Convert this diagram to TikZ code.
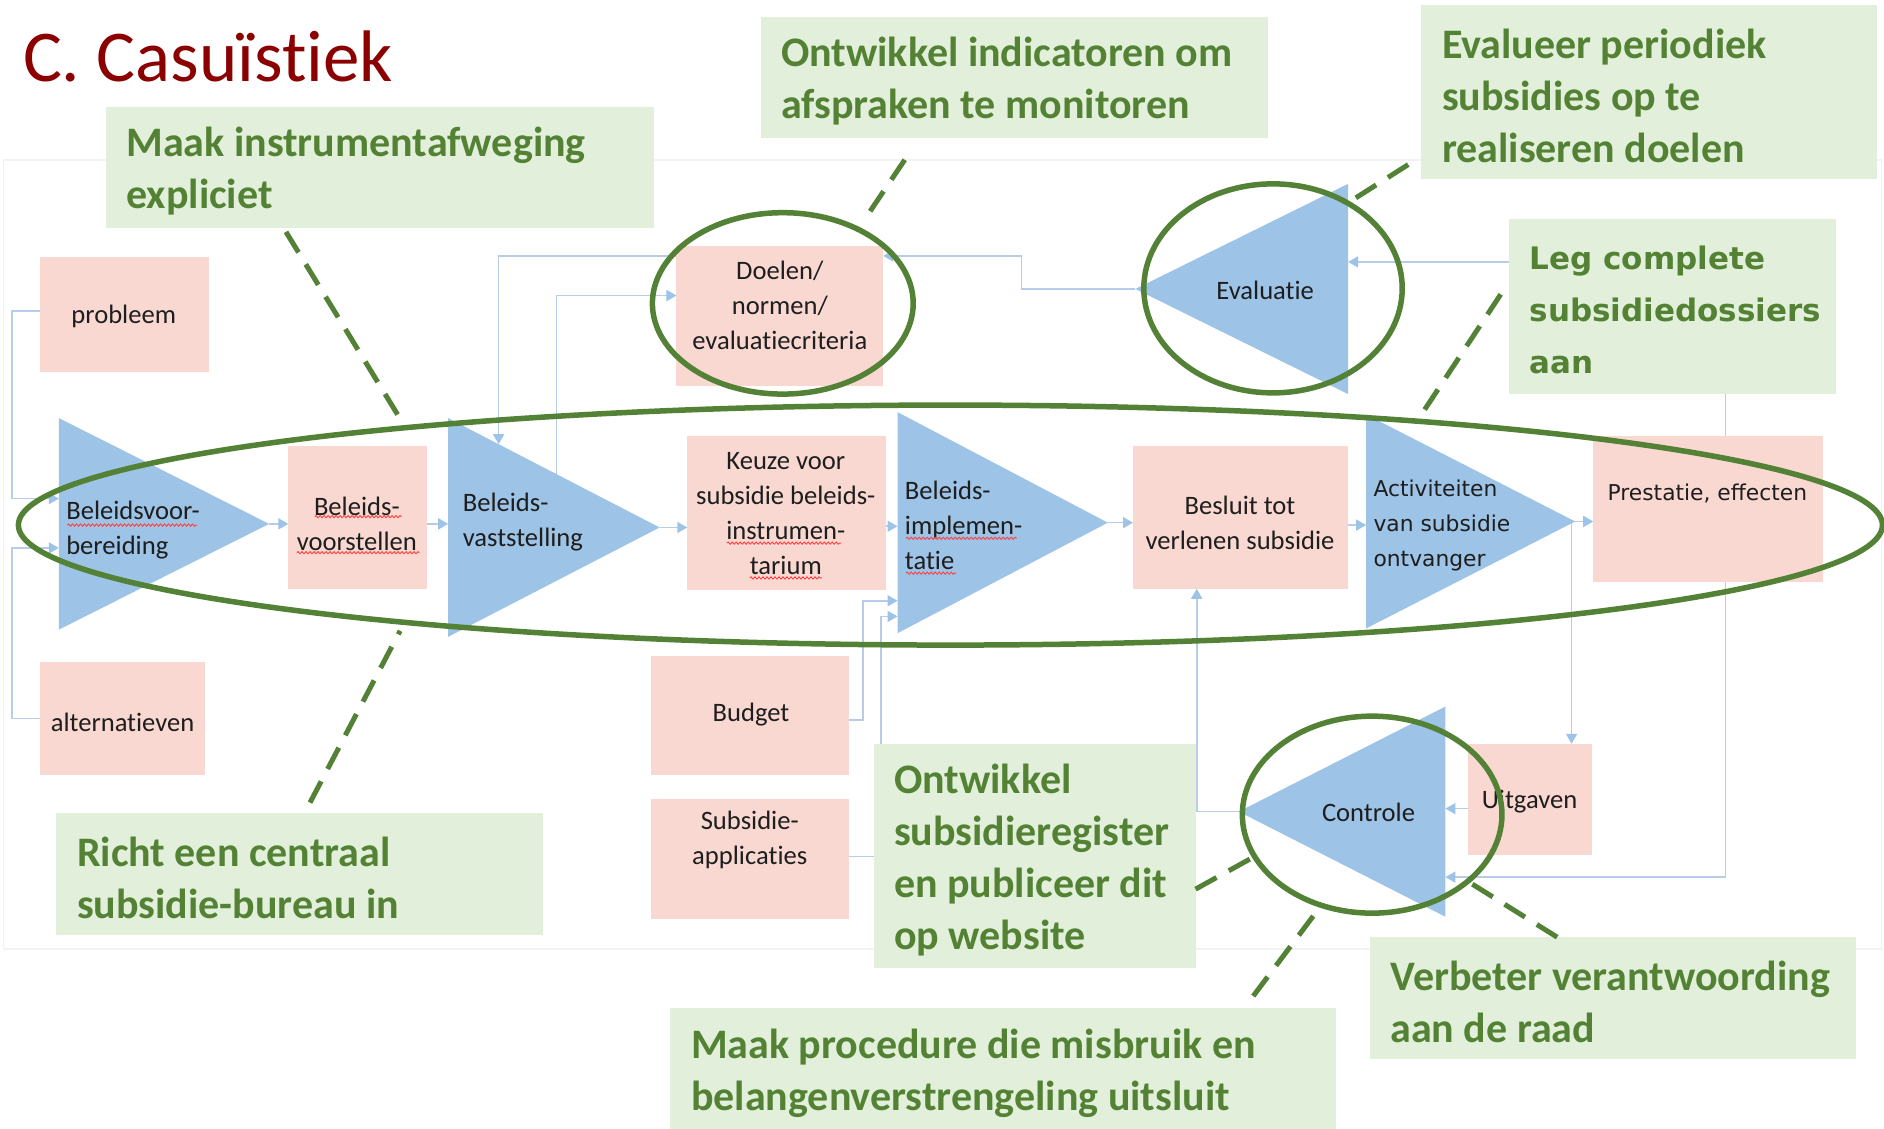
\documentclass[tikz,border=0pt]{standalone}
\usepackage{fontspec}
\setmainfont{Carlito}[Ligatures=NoCommon]
\newfontfamily\dejavu{DejaVu Sans}
\usetikzlibrary{arrows.meta,decorations.pathmorphing}
\definecolor{gfill}{HTML}{E2EFDA}
\definecolor{gtext}{HTML}{548235}
\definecolor{gline}{HTML}{538135}
\definecolor{pfill}{HTML}{F9D8D1}
\definecolor{tfill}{HTML}{9DC3E6}
\definecolor{cline}{HTML}{B8CBE8}
\definecolor{darr}{HTML}{9DC3E6}
\definecolor{titlered}{HTML}{8B0000}
\definecolor{ink}{HTML}{1E1E1E}
\tikzset{
  pinkbox/.style={fill=pfill, draw=none, inner sep=0pt, outer sep=0pt},
  greenbox/.style={fill=gfill, draw=none, inner sep=0pt, outer sep=0pt},
  boxtext/.style={inner sep=0pt, align=center, text=ink, font=\fontsize{26.6}{35}\selectfont},
  tritext/.style={inner sep=0pt, align=left, anchor=west, text=ink, font=\fontsize{26.6}{35}\selectfont},
  verdanatext/.style={font=\dejavu\fontsize{21.8}{35}\selectfont},
  greentext/.style={anchor=west, inner sep=0pt, align=left, text=gtext, font=\fontsize{42}{52}\selectfont\bfseries},
  verdanabold/.style={font=\dejavu\fontsize{31}{52}\selectfont\bfseries},
  plaingreen/.style={},
  conn/.style={draw=cline, line width=1.6pt, -{Triangle[length=10pt,width=11pt,color=darr]}},
  hilite/.style={draw=gline, line width=5.5pt},
  pointer/.style={draw=gline, line width=5pt, dash pattern=on 24pt off 14pt},
  tri/.style={fill=tfill, draw=none},
  squig/.style={draw=red!75, line width=0.9pt, decorate, decoration={snake, amplitude=1.1pt, segment length=4pt}},
}
\newcommand\mkpink[8]{%
  \node[pinkbox, minimum width={(#4-#2)*1.2015pt}, minimum height={(#5-#3)*1.2015pt}] (#1) at ({(#2+#4)/2},{(#3+#5)/2}) {};
  \node[boxtext] (#1-t) at (#6,#7) {#8};}
\newcommand\mkgreen[7]{%
  \node[greenbox, minimum width={(#5-#3)*1.2015pt}, minimum height={(#6-#4)*1.2015pt}] (#1) at ({(#3+#5)/2},{(#4+#6)/2}) {};
  \node[greentext, #2] (#1-t) at ({#3+17},{(#4+#6)/2+3}) {#7};}
\begin{document}
\begin{tikzpicture}[x=1.2015pt, y=-1.2015pt]
\useasboundingbox (0,0) rectangle (1568,939);
\fill[white] (0,0) rectangle (1568,939);
% faint screenshot frame
\draw[black!5, line width=1.5pt] (3,133) rectangle (1566,790);

% title
\node[anchor=base west, inner sep=0pt, text=titlered, font=\fontsize{73}{90}\selectfont] (title) at (19,68) {C. Casuïstiek};

% triangle corners
\coordinate (T1t) at (49,348); \coordinate (T1b) at (49,524); \coordinate (T1a) at (224,436);
\coordinate (T2t) at (373,348); \coordinate (T2b) at (373,530); \coordinate (T2a) at (549,439);
\coordinate (T3t) at (747,343); \coordinate (T3b) at (747,527); \coordinate (T3a) at (922,435);
\coordinate (T4t) at (1137,345); \coordinate (T4b) at (1137,523); \coordinate (T4a) at (1311,434);
\coordinate (Et) at (1122,153); \coordinate (Eb) at (1122,328); \coordinate (Ea) at (945,240.5);
\coordinate (Ct) at (1203,588); \coordinate (Cb) at (1203,763); \coordinate (Ca) at (1031,675.5);

% connector ports
\coordinate (T1in1) at (49,415); \coordinate (T1in2) at (49,456);
\coordinate (T2top) at (415,369.7); \coordinate (T2up) at (463,394.5);
\coordinate (T3in1) at (747,500); \coordinate (T3in2) at (747,513);
\coordinate (T4d) at (1308,434);
\coordinate (Er) at (1122,218); \coordinate (Ek) at (850,213);
\coordinate (Dr) at (735,213); \coordinate (Dl) at (563,213); \coordinate (Dl2) at (563,246);
\coordinate (Cr1) at (1203,673); \coordinate (Cr2) at (1203,730);
\coordinate (prestT) at (1436,363); \coordinate (prestB) at (1436,484);
\coordinate (Bb) at (996,490);

% pink boxes
\mkpink{probleem}{33}{214}{174}{310}{103}{263}{probleem}
\mkpink{altern}{33}{551}{171}{645}{102}{601}{alternatieven}
\mkpink{bvst}{240}{371}{355}{490}{297}{436}{Beleids-\\voorstellen}
\mkpink{doelen}{563}{205}{735}{321}{649}{254}{Doelen/\\normen/\\evaluatiecriteria}
\mkpink{keuze}{572}{363}{737}{491}{654}{427.5}{Keuze voor\\subsidie beleids-\\instrumen-\\tarium}
\mkpink{besluit}{943}{371}{1122}{490}{1032}{435}{Besluit tot\\verlenen subsidie}
\mkpink{prest}{1326}{363}{1517}{484}{1421}{411}{\dejavu\fontsize{21.8}{35}\selectfont Prestatie, effecten}
\mkpink{budget}{542}{546}{707}{645}{625}{595}{Budget}
\mkpink{subsapp}{542}{665}{707}{765}{624}{699}{Subsidie-\\applicaties}
\mkpink{uitg}{1222}{619}{1325}{712}{1273}{667}{Uitgaven}

% connectors
\draw[conn] (probleem.west |- 0,259) -- ++(-23,0) |- (T1in1);
\draw[conn] (altern.west) -- ++(-23,0) |- (T1in2);
\draw[conn] (T1a) -- (T1a -| bvst.west);
\draw[conn] (T1a -| bvst.east) -- (T1a -| T2t);
\draw[conn] (T2a) -- (T2a -| keuze.west);
\draw[conn] (keuze.east |- 0,438) -- (T3t |- 0,438);
\draw[conn] (T3a) -- (T3a -| besluit.west);
\draw[conn] (besluit.east |- 0,437) -- (T4t |- 0,437);
\draw[conn] (T4a) -- (T4a -| prest.west);
\draw[conn] (T4d) -- (T4d |- uitg.north);
\draw[conn] (uitg.west |- Cr1) -- (Cr1);
\draw[conn] (prestB) |- (Cr2);
\draw[conn] (prestT) |- (Er);
\draw[conn] (Ea) -| (Ek) -- (Dr);
\draw[conn] (Dl) -| (T2top);
\draw[conn] (T2up) |- (Dl2);
\draw[conn] (Ca) -| (Bb);
\draw[conn] (budget.east |- 0,599) -- ++(11,0) |- (T3in1);
\draw[conn] (subsapp.east |- 0,713) -- ++(26,0) |- (T3in2);

% triangles
\fill[tri] (T1t) -- (T1a) -- (T1b) -- cycle;
\fill[tri] (T2t) -- (T2a) -- (T2b) -- cycle;
\fill[tri] (T3t) -- (T3a) -- (T3b) -- cycle;
\fill[tri] (T4t) -- (T4a) -- (T4b) -- cycle;
\fill[tri] (Et) -- (Ea) -- (Eb) -- cycle;
\fill[tri] (Ct) -- (Ca) -- (Cb) -- cycle;

\node[tritext] (T1-t) at (55,441.5) {Beleidsvoor-\\bereiding};
\node[tritext] (T2-t) at (385,434.5) {Beleids-\\vaststelling};
\node[tritext] (T3-t) at (753,437.5) {Beleids-\\implemen-\\tatie};
\node[tritext, verdanatext] (T4-t) at (1143,437) {Activiteiten\\van subsidie\\ontvanger};
\node[boxtext] (E-t) at (1053,242) {Evaluatie};
\node[boxtext] (C-t) at (1139,676) {Controle};

% spell-check underlines
\draw[squig] (56,437) -- (164,437);
\draw[squig] (262,430) -- (334,430);
\draw[squig] (247,460) -- (349,460);
\draw[squig] (605,452) -- (700,452);
\draw[squig] (624,481) -- (684,481);
\draw[squig] (754,448) -- (846,448);
\draw[squig] (754,477) -- (796,477);

% highlight ellipses
\draw[hilite] (791,437) ellipse [x radius=932pt, y radius=120pt];
\draw[hilite] (651.5,252.5) ellipse [x radius=130.4pt, y radius=90.7pt];
\draw[hilite] (1059.5,240) ellipse [x radius=129.2pt, y radius=104.5pt];
\draw[hilite] (1142,678) ellipse [x radius=129.8pt, y radius=98.5pt];

% green advice boxes
\mkgreen{g1}{plaingreen}{88}{89}{544}{190}{Maak instrumentafweging\\expliciet}
\mkgreen{g2}{plaingreen}{633}{14}{1055}{115}{Ontwikkel indicatoren om\\afspraken te monitoren}
\mkgreen{g3}{plaingreen}{1183}{4}{1562}{149}{Evalueer periodiek\\subsidies op te\\realiseren doelen}
\mkgreen{g4}{verdanabold}{1256}{182}{1528}{328}{Leg complete\\subsidiedossiers\\aan}
\mkgreen{g5}{plaingreen}{47}{677}{452}{778}{Richt een centraal\\subsidie-bureau in}
\mkgreen{g6}{plaingreen}{727}{619}{995}{806}{Ontwikkel\\subsidieregister\\en publiceer dit\\op website}
\mkgreen{g7}{plaingreen}{558}{839}{1112}{941}{Maak procedure die misbruik en\\belangenverstrengeling uitsluit}
\mkgreen{g8}{plaingreen}{1140}{780}{1545}{881}{Verbeter verantwoording\\aan de raad}

% dashed pointers
\coordinate (p1a) at (238,193); \coordinate (p1b) at (337,355);
\coordinate (p2a) at (753,133); \coordinate (p2b) at (720,182);
\coordinate (p3a) at (1172,137); \coordinate (p3b) at (1120,170);
\coordinate (p4a) at (1249,245); \coordinate (p4b) at (1183,345);
\coordinate (p5a) at (258,668); \coordinate (p5b) at (333,525);
\coordinate (p6a) at (995,740); \coordinate (p6b) at (1042,714);
\coordinate (p7a) at (1043,829); \coordinate (p7b) at (1097,757);
\coordinate (p8a) at (1296,780); \coordinate (p8b) at (1224,735);
\draw[pointer] (p1a) -- (p1b);
\draw[pointer] (p2a) -- (p2b);
\draw[pointer] (p3a) -- (p3b);
\draw[pointer] (p4a) -- (p4b);
\draw[pointer] (p5a) -- (p5b);
\draw[pointer] (p6a) -- (p6b);
\draw[pointer] (p7a) -- (p7b);
\draw[pointer] (p8a) -- (p8b);
\end{tikzpicture}
\end{document}
